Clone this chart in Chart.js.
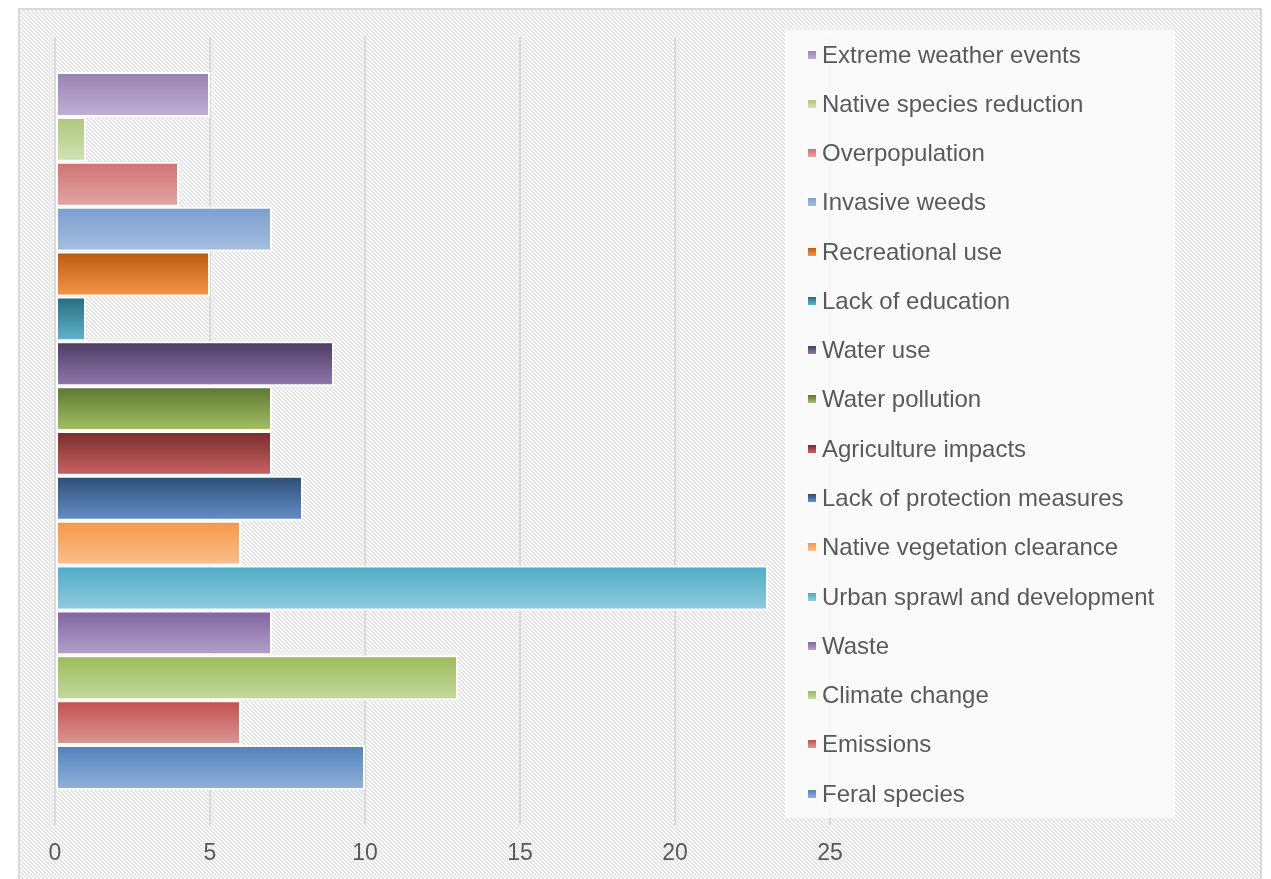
<!DOCTYPE html>
<html>
<head>
<meta charset="utf-8">
<script src="https://cdn.jsdelivr.net/npm/chart.js@4.4.1/dist/chart.umd.min.js"></script>
<style>
  html, body { margin: 0; padding: 0; background: #fff; }
  #wrap { position: relative; width: 1271px; height: 879px; overflow: hidden; }
  #grafico { position: absolute; left: 0; top: 0; }
  #legenda {
    position: absolute; left: 785px; top: 30px; width: 390px; height: 788px;
    background: rgba(255, 255, 255, 0.72);
    font-family: 'Liberation Sans', Arial, sans-serif; font-size: 24px; color: #595959;
  }
  #legenda .item { height: 49.27px; display: flex; align-items: center; padding-left: 23px; }
  #legenda .marca { width: 8px; height: 8px; margin-right: 6px; }
</style>
</head>
<body>
<div id="wrap">
  <canvas id="grafico" width="1271" height="879"></canvas>
  <div id="legenda"></div>
</div>
<script>
// dados (de cima para baixo, igual à legenda)
const categorias = [''];
const series = [
  'Extreme weather events', 'Native species reduction', 'Overpopulation', 'Invasive weeds',
  'Recreational use', 'Lack of education', 'Water use', 'Water pollution',
  'Agriculture impacts', 'Lack of protection measures', 'Native vegetation clearance',
  'Urban sprawl and development', 'Waste', 'Climate change', 'Emissions', 'Feral species'
];
const valores = [5, 1, 4, 7, 5, 1, 9, 7, 7, 8, 6, 23, 7, 13, 6, 10];
const ticksX = [0, 5, 10, 15, 20, 25];

// cores do gradiente (topo -> base)
const corTopo = [
  '#9a80b4', '#aec77a', '#cd7371', '#7d9ecf', '#b85a10', '#276a7c', '#4d3b62', '#5c7530',
  '#772c2a', '#2c4d75', '#f79646', '#4bacc6', '#8064a2', '#9bbb59', '#c0504d', '#4f81bd'
];
const corBase = [
  '#c0b1d3', '#d3e2b6', '#e3a5a4', '#a6bedf', '#f5964a', '#5fb7cf', '#9079ad', '#a4c266',
  '#c96462', '#6690c8', '#fbc08e', '#93cbdd', '#b3a2ca', '#c5d99e', '#dc9896', '#94b2d8'
];

// fundo hachurado + moldura
const fundo = {
  id: 'fundo',
  beforeDraw(chart) {
    const ctx = chart.ctx;
    const tile = document.createElement('canvas');
    tile.width = 4; tile.height = 4;
    const t = tile.getContext('2d');
    t.fillStyle = '#ffffff';
    t.fillRect(0, 0, 4, 4);
    t.fillStyle = '#e2e2e2';
    for (let y = 0; y < 4; y++) {
      t.fillRect(y, y, 1, 1);
      t.fillRect((y + 1) % 4, y, 1, 1);
    }
    ctx.save();
    ctx.fillStyle = '#ffffff';
    ctx.fillRect(0, 0, chart.width, chart.height);
    ctx.fillStyle = ctx.createPattern(tile, 'repeat');
    ctx.fillRect(19, 9, 1242, 880);
    ctx.strokeStyle = '#d9d9d9';
    ctx.lineWidth = 2;
    ctx.strokeRect(19, 9, 1242, 900);
    ctx.restore();
  }
};

function gradiente(i) {
  return (context) => {
    const el = context.element;
    if (!el || el.y == null || !el.height) return corTopo[i];
    const g = context.chart.ctx.createLinearGradient(0, el.y - el.height / 2, 0, el.y + el.height / 2);
    g.addColorStop(0, corTopo[i]);
    g.addColorStop(1, corBase[i]);
    return g;
  };
}

const datasets = series.map((nome, i) => ({
  label: nome,
  data: [valores[i]],
  backgroundColor: gradiente(i),
  borderColor: '#ffffff',
  borderWidth: 2,
  borderSkipped: false,
  categoryPercentage: 0.911,
  barPercentage: 1
}));

const grafico = new Chart(document.getElementById('grafico').getContext('2d'), {
  type: 'bar',
  data: { labels: categorias, datasets },
  options: {
    indexAxis: 'y',
    responsive: false,
    animation: false,
    layout: { padding: { left: 55, top: 37, right: 441, bottom: 0 } },
    plugins: { legend: { display: false }, tooltip: { enabled: false } },
    scales: {
      x: {
        min: ticksX[0],
        max: ticksX[ticksX.length - 1],
        afterFit: (scale) => { scale.height = 54; },
        ticks: {
          stepSize: 5,
          color: '#595959',
          padding: 15,
          font: { family: "'Liberation Sans', Arial, sans-serif", size: 23 }
        },
        grid: { color: '#dadada', lineWidth: 2, drawTicks: false },
        border: { display: false }
      },
      y: { display: false }
    }
  },
  plugins: [fundo]
});
// segunda passada para os gradientes usarem a posição real das barras
grafico.update('none');

// legenda
const legenda = document.getElementById('legenda');
series.forEach((nome, i) => {
  const item = document.createElement('div');
  item.className = 'item';
  const marca = document.createElement('span');
  marca.className = 'marca';
  marca.style.background = `linear-gradient(${corTopo[i]}, ${corBase[i]})`;
  item.appendChild(marca);
  item.appendChild(document.createTextNode(nome));
  legenda.appendChild(item);
});
</script>
</body>
</html>
